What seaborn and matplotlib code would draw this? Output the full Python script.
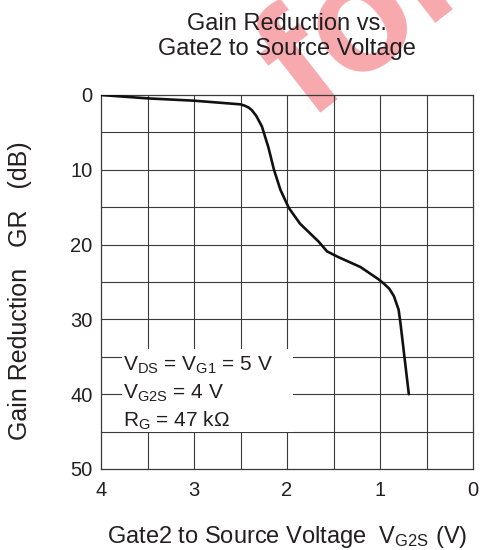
import numpy as np
import pandas as pd
import matplotlib
matplotlib.use("Agg")
import matplotlib.pyplot as plt
import seaborn as sns
from matplotlib.patches import Rectangle

# ---- data ----
v_g2s = [4.0, 3.5, 3.0, 2.5, 2.45, 2.41, 2.38, 2.33, 2.27, 2.2, 2.14, 2.07, 1.98,
         1.86, 1.66, 1.57, 1.46, 1.21, 1.02, 0.96, 0.90, 0.85, 0.80, 0.78, 0.69]
gain_red = [0.0, 0.45, 0.76, 1.25, 1.45, 1.7, 2.0, 2.8, 4.2, 7.0, 10.0, 12.7, 15.1,
            17.2, 19.6, 20.9, 21.6, 23.0, 24.6, 25.2, 25.9, 26.9, 28.7, 30.5, 40.0]
x_ticks = [4, 3, 2, 1, 0]
y_ticks = [0, 10, 20, 30, 40, 50]
x_grid = [3.5, 3.0, 2.5, 2.0, 1.5, 1.0, 0.5]
y_grid = [5, 10, 15, 20, 25, 30, 35, 40, 45]
cond_lines = [r"V$_\mathregular{DS}$ = V$_\mathregular{G1}$ = 5 V",
              r"V$_\mathregular{G2S}$ = 4 V",
              r"R$_\mathregular{G}$ = 47 kΩ"]

df = pd.DataFrame({"V": v_g2s, "GR": gain_red})

sns.set_theme(style="white")
plt.rcParams["font.family"] = ["Liberation Sans", "DejaVu Sans"]
plt.rcParams["mathtext.fontset"] = "custom"
plt.rcParams["mathtext.rm"] = "Liberation Sans"
plt.rcParams["mathtext.it"] = "Liberation Sans:italic"
plt.rcParams["mathtext.bf"] = "Liberation Sans:bold"

TXT = "#231f20"
GRID = "#3a3a3a"

fig = plt.figure(figsize=(4.8, 5.5), dpi=100)
ax = fig.add_axes([101/480, 1-469/550, 372/480, 374/550])
ax.set_facecolor("none")
ax.set_zorder(1)

# watermark
fig.text(308/480, 1-120/550, "for", rotation=38, rotation_mode="anchor",
         ha="left", va="baseline", fontsize=115, fontweight="bold",
         color="#f7a9ae", zorder=0.5)

for xv in x_grid:
    ax.axvline(xv, color=GRID, lw=0.8, zorder=0.5)
for yv in y_grid:
    ax.axhline(yv, color=GRID, lw=0.8, zorder=0.5)

# white box behind conditions
ax.add_patch(Rectangle((0.0565, 0.099), 0.4595, 0.222, transform=ax.transAxes,
                       facecolor="white", edgecolor="none", zorder=1))

sns.lineplot(data=df, x="V", y="GR", sort=False, ax=ax, color="#111111",
             lw=1.9, zorder=3, estimator=None)

ax.set_xlim(4, 0)
ax.set_ylim(50, 0)
ax.set_xticks(x_ticks)
ax.set_xticklabels([str(t) for t in x_ticks])
ax.set_yticks(y_ticks)
ax.set_yticklabels([str(t) for t in y_ticks])
ax.tick_params(axis="both", length=0, labelsize=14.5, colors=TXT)
ax.tick_params(axis="x", pad=9)
ax.tick_params(axis="y", pad=6)
for s in ax.spines.values():
    s.set_visible(True)
    s.set_color(GRID)
    s.set_linewidth(0.9)
ax.set_xlabel("")
ax.set_ylabel("")

for txt, yb in zip(cond_lines, [0.262, 0.187, 0.112]):
    ax.text(0.058, yb, txt, transform=ax.transAxes, fontsize=15,
            color=TXT, ha="left", va="baseline", zorder=4)

# titles & labels
fig.text(287/480, 1-29.5/550, "Gain Reduction vs.", ha="center",
         va="baseline", fontsize=17, color=TXT, zorder=3)
fig.text(287/480, 1-55.5/550, "Gate2 to Source Voltage", ha="center",
         va="baseline", fontsize=17, color=TXT, zorder=3)
fig.text(287/480, 1-543/550, r"Gate2 to Source Voltage  V$_\mathregular{G2S}$ (V)",
         ha="center", va="baseline", fontsize=17, color=TXT)
fig.text(20/480, 1-291/550, "Gain Reduction   GR   (dB)", rotation=90,
         ha="center", va="center", fontsize=18, color=TXT)

fig.savefig("out.png", dpi=100, facecolor="white")
